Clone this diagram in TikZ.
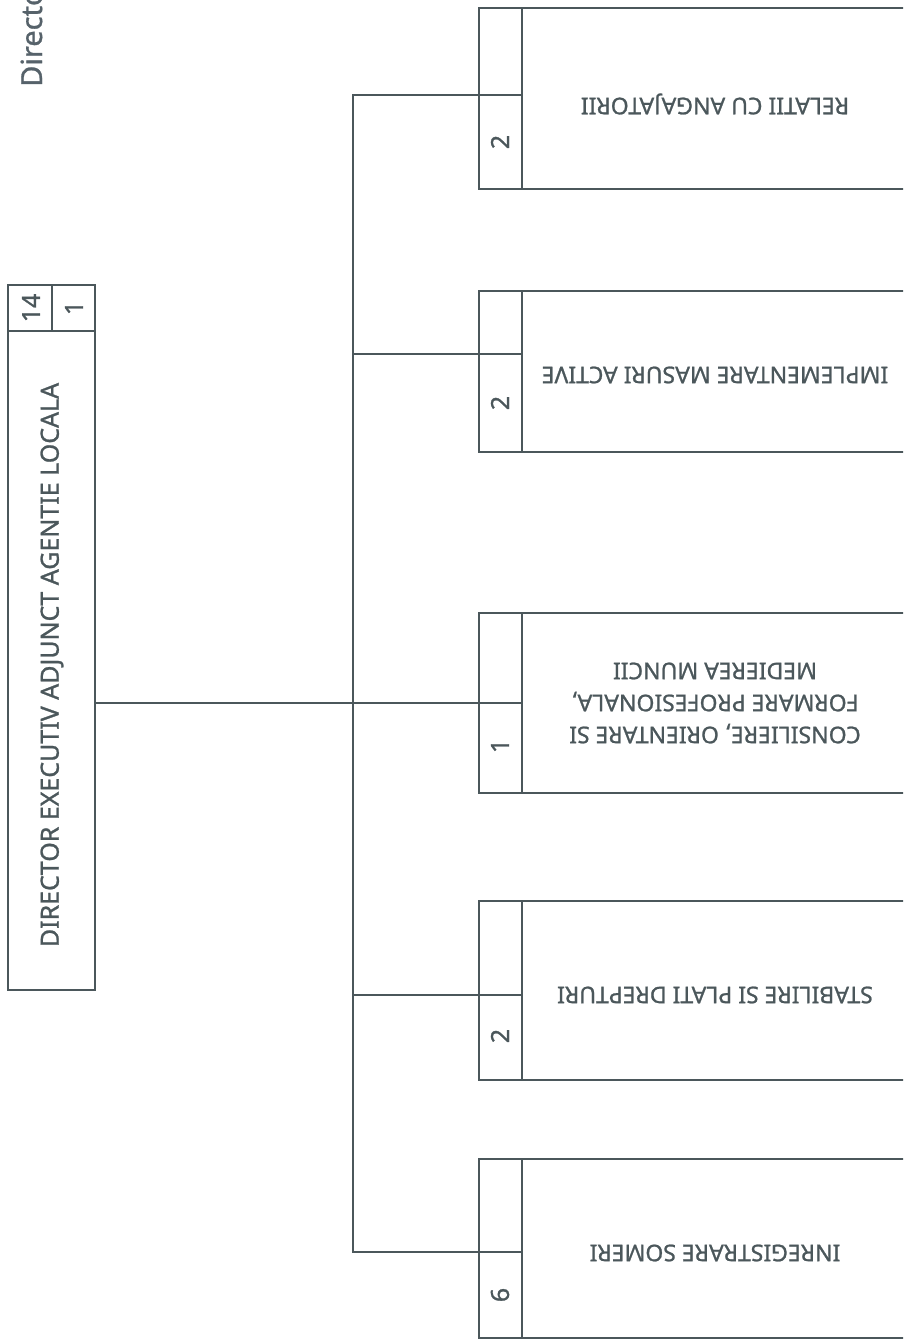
\documentclass[tikz,border=0pt]{standalone}
\usepackage{fontspec}
\setmainfont{Noto Sans}[BoldFont={Noto Sans}, BoldFeatures={FakeBold=1.0}]
\definecolor{ink}{HTML}{4B575B}
\definecolor{titleink}{HTML}{56626A}
\begin{document}
\begin{tikzpicture}[x=1pt,y=-1pt,
  frame/.style={draw=ink, line width=2.3pt},
  conn/.style={draw=ink, line width=2.3pt},
  cbox/.style={frame, anchor=north west, minimum width=433pt, inner sep=0pt, outer sep=0pt},
  lbl/.style={text=ink, font=\fontsize{23}{32}\selectfont\bfseries, align=center, inner sep=0pt},
  num/.style={text=ink, font=\fontsize{25}{26}\selectfont\bfseries, inner sep=0pt, rotate=90}]
\useasboundingbox (0,0) rectangle (903,1340);
\clip (0,0) rectangle (903,1340);
\fill[white] (0,0) rectangle (903,1340);

% title (cut at the top)
\node[rotate=90, anchor=base west, inner sep=0pt, text=titleink, font=\fontsize{29}{30}\selectfont\bfseries] (ttl) at (42,87) {Directo};

% director box
\node[frame, anchor=north west, minimum width=87pt, minimum height=705pt, inner sep=0pt, outer sep=0pt] (dir) at (8,285) {};
\draw[frame] (8,331) -- (95,331);
\draw[frame] (52,285) -- (52,331);
\node[num] (d14) at (31,308) {14};
\node[num] (d1) at (74,308) {1};
\node[lbl, rotate=90, font=\fontsize{25}{30}\selectfont\bfseries] (dtxt) at (52,665) {DIRECTOR EXECUTIV ADJUNCT AGENTIE LOCALA};

% child boxes
\node[cbox, minimum height=181pt] (c1) at (479,8) {};
\node[cbox, minimum height=161pt] (c2) at (479,291) {};
\node[cbox, minimum height=180pt] (c3) at (479,613) {};
\node[cbox, minimum height=179pt] (c4) at (479,901) {};
\node[cbox, minimum height=179pt] (c5) at (479,1159) {};

% number columns
\foreach \t/\b in {8/189, 291/452, 613/793, 901/1080, 1159/1338}
  \draw[frame] (522,\t) -- (522,\b);

% ports (where connectors meet the boxes) and dividers
\coordinate (p1) at (479,95);
\coordinate (p2) at (479,354);
\coordinate (p3) at (479,703);
\coordinate (p4) at (479,995);
\coordinate (p5) at (479,1252);
\foreach \p in {p1,p2,p3,p4,p5}
  \draw[frame] (\p) -- ++(43,0);

% numbers
\node[num] (n1) at (500,142) {2};
\node[num] (n2) at (500,403) {2};
\node[num] (n3) at (500,746) {1};
\node[num] (n4) at (500,1036) {2};
\node[num] (n5) at (500,1295) {6};

% texts (upside down)
\node[lbl, rotate=180] (t1) at (715,104) {RELATII CU ANGAJATORII};
\node[lbl, rotate=180] (t2) at (715,375) {IMPLEMENTARE MASURI ACTIVE};
\node[lbl, rotate=180] (t3) at (715,703) {CONSILIERE, ORIENTARE SI\\FORMARE PROFESIONALA,\\MEDIEREA MUNCII};
\node[lbl, rotate=180] (t4) at (715,995) {STABILIRE SI PLATI DREPTURI};
\node[lbl, rotate=180] (t5) at (715,1253) {INREGISTRARE SOMERI};

% connectors
\coordinate (bt) at (353,95);
\coordinate (bb) at (353,1252);
\draw[conn] (dir.east |- p3) -- (p3);
\draw[conn] (p1) -| (bt) -- (bb) -- (p5);
\draw[conn] (bt |- p2) -- (p2);
\draw[conn] (bt |- p4) -- (p4);
\end{tikzpicture}
\end{document}
